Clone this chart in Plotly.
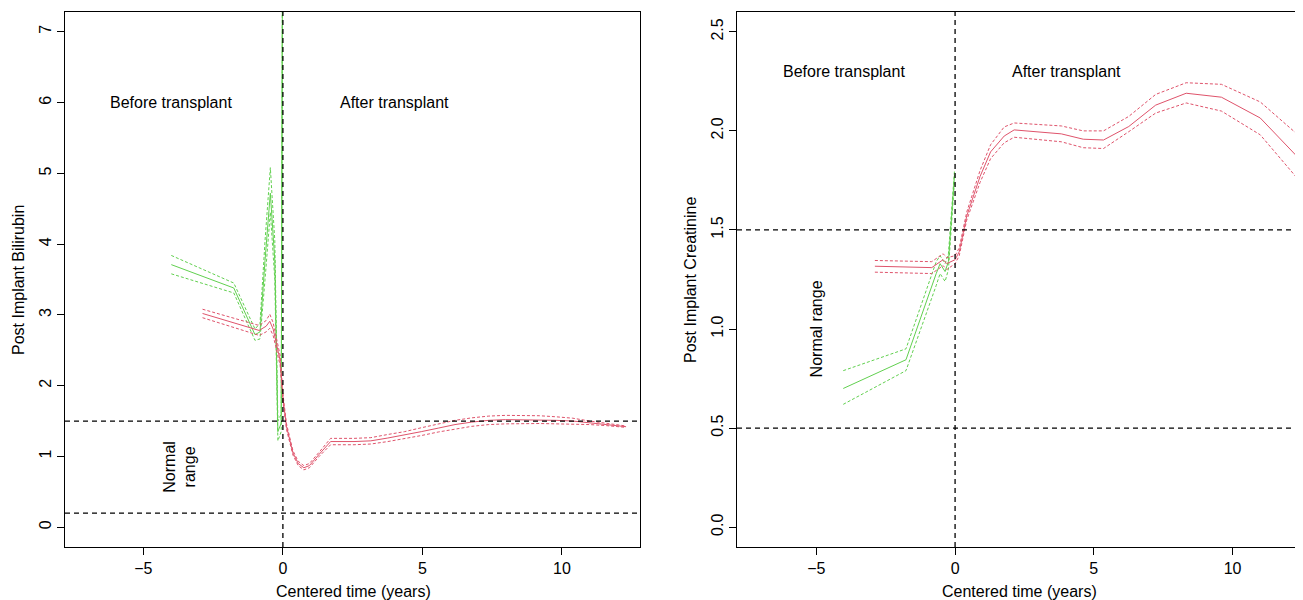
import plotly.graph_objects as go

# page body has an 8px margin; figure coordinates are reference pixels minus 8
OFF = 8
W, H = 1303 - OFF, 600 - OFF
RED = "#DF536B"
GREEN = "#61D04F"
FONT = "Liberation Sans, Arial, sans-serif"

# ---------------- Left panel: bilirubin ----------------
bil_green_x = [-4.0, -1.76, -1.0, -0.82, -0.64, -0.45, -0.29, -0.18, -0.06, -0.02]
bil_green_mid = [3.71, 3.38, 2.72, 2.76, 3.77, 4.72, 3.77, 1.35, 1.47, 7.3]
bil_green_up = [3.84, 3.45, 2.80, 2.88, 4.05, 5.08, 4.05, 1.50, 1.60, 7.5]
bil_green_lo = [3.58, 3.31, 2.64, 2.66, 3.50, 4.45, 3.50, 1.22, 1.35, 7.1]

bil_red_x = [-2.88, -0.85, -0.6, -0.47, -0.35, -0.1, 0.01, 0.13, 0.36, 0.55, 0.75, 0.95,
             1.3, 1.71, 2.55, 3.15, 3.76, 4.36, 4.96, 5.57, 6.17, 6.77, 7.38, 7.98,
             9.19, 9.79, 10.39, 11.0, 11.6, 12.3]
bil_red_mid = [3.02, 2.78, 2.84, 2.91, 2.80, 2.36, 1.80, 1.42, 1.05, 0.90, 0.84, 0.87,
               1.03, 1.21, 1.21, 1.22, 1.26, 1.30, 1.35, 1.40, 1.45, 1.485, 1.51, 1.52,
               1.52, 1.51, 1.50, 1.475, 1.45, 1.42]
bil_red_up = [3.08, 2.85, 2.92, 3.01, 2.89, 2.43, 1.85, 1.46, 1.08, 0.93, 0.87, 0.90,
              1.06, 1.255, 1.255, 1.265, 1.31, 1.35, 1.405, 1.455, 1.51, 1.545, 1.57, 1.58,
              1.575, 1.56, 1.54, 1.50, 1.465, 1.43]
bil_red_lo = [2.96, 2.71, 2.76, 2.81, 2.71, 2.29, 1.75, 1.38, 1.02, 0.87, 0.81, 0.84,
              1.00, 1.165, 1.165, 1.175, 1.21, 1.25, 1.295, 1.345, 1.39, 1.425, 1.45, 1.46,
              1.465, 1.46, 1.46, 1.45, 1.435, 1.41]

# ---------------- Right panel: creatinine ----------------
cr_green_x = [-4.03, -1.77, -0.68, -0.54, -0.36, -0.24, -0.02]
cr_green_mid = [0.70, 0.845, 1.28, 1.33, 1.29, 1.34, 1.78]
cr_green_up = [0.79, 0.90, 1.34, 1.37, 1.33, 1.38, 1.80]
cr_green_lo = [0.62, 0.79, 1.22, 1.28, 1.24, 1.30, 1.75]

cr_red_x = [-2.89, -0.84, -0.43, -0.3, 0.0, 0.15, 0.42, 0.73, 0.9, 1.28, 1.77, 2.13,
            3.83, 4.62, 5.35, 6.26, 7.23, 8.33, 9.6, 11.0, 12.4]
cr_red_mid = [1.317, 1.31, 1.35, 1.33, 1.35, 1.39, 1.57, 1.70, 1.77, 1.894, 1.974, 2.005,
              1.985, 1.958, 1.954, 2.022, 2.13, 2.19, 2.17, 2.065, 1.86]
cr_red_up = [1.346, 1.34, 1.38, 1.36, 1.37, 1.41, 1.59, 1.72, 1.80, 1.93, 2.02, 2.04,
             2.025, 2.0, 2.0, 2.073, 2.184, 2.243, 2.235, 2.146, 1.975]
cr_red_lo = [1.287, 1.28, 1.32, 1.30, 1.33, 1.37, 1.55, 1.68, 1.74, 1.86, 1.94, 1.968,
             1.945, 1.915, 1.911, 1.996, 2.09, 2.141, 2.10, 1.98, 1.75]

left_ticks_y = [0, 1, 2, 3, 4, 5, 6, 7]
right_ticks_y = [0.0, 0.5, 1.0, 1.5, 2.0, 2.5]
x_ticks = [-5, 0, 5, 10]

bil_normal = [0.2, 1.5]
cr_normal = [0.5, 1.5]

fig = go.Figure()


def add_band(x, mid, up, lo, color, xa, ya):
    fig.add_trace(go.Scatter(x=x, y=mid, mode="lines", line=dict(color=color, width=1),
                             xaxis=xa, yaxis=ya, showlegend=False, hoverinfo="skip"))
    for b in (up, lo):
        fig.add_trace(go.Scatter(x=x, y=b, mode="lines",
                                 line=dict(color=color, width=1, dash="3px,2px"),
                                 xaxis=xa, yaxis=ya, showlegend=False, hoverinfo="skip"))


add_band(bil_green_x, bil_green_mid, bil_green_up, bil_green_lo, GREEN, "x", "y")
add_band(bil_red_x, bil_red_mid, bil_red_up, bil_red_lo, RED, "x", "y")
add_band(cr_green_x, cr_green_mid, cr_green_up, cr_green_lo, GREEN, "x2", "y2")
add_band(cr_red_x, cr_red_mid, cr_red_up, cr_red_lo, RED, "x2", "y2")

DASH = dict(color="black", width=1.3, dash="5px,4px")
for v in bil_normal:
    fig.add_shape(type="line", xref="x domain", yref="y", x0=0, x1=1, y0=v, y1=v, line=DASH)
fig.add_shape(type="line", xref="x", yref="y domain", x0=0, x1=0, y0=0, y1=1, line=DASH)
for v in cr_normal:
    fig.add_shape(type="line", xref="x2 domain", yref="y2", x0=0, x1=1, y0=v, y1=v, line=DASH)
fig.add_shape(type="line", xref="x2", yref="y2 domain", x0=0, x1=0, y0=0, y1=1, line=DASH)


def px(xr):
    return (xr - OFF) / W


def py(yr):
    return 1 - (yr - OFF) / H


yd = [py(547), py(12)]
axis_common = dict(showgrid=False, zeroline=False, showline=True, linecolor="black",
                   linewidth=1, ticks="outside", ticklen=7, tickcolor="black",
                   tickfont=dict(family=FONT, size=16, color="black"))

fig.update_layout(
    width=W, height=H, margin=dict(l=0, r=0, t=0, b=0),
    plot_bgcolor="white", paper_bgcolor="white", showlegend=False,
    xaxis=dict(domain=[px(65), px(640)], range=[-7.81, 12.8], tickvals=x_ticks,
               mirror=True, anchor="y", **axis_common),
    yaxis=dict(domain=yd, range=[-0.28, 7.28], tickvals=left_ticks_y, tickangle=-90,
               mirror=True, anchor="x", **axis_common),
    xaxis2=dict(domain=[px(737), 1.0], range=[-7.86, 12.54], tickvals=x_ticks,
                mirror=True, anchor="y2", **axis_common),
    yaxis2=dict(domain=yd, range=[-0.1, 2.6], tickvals=right_ticks_y, tickformat=".1f",
                tickangle=-90, mirror=False, anchor="x2", **axis_common),
)

TF = dict(family=FONT, size=16, color="black")
ann = [
    dict(text="Before transplant", x=-4, y=6, xref="x", yref="y"),
    dict(text="After transplant", x=4, y=6, xref="x", yref="y"),
    dict(text="Normal<br>range", x=-3.7, y=0.85, xref="x", yref="y", textangle=-90),
    dict(text="Before transplant", x=-4, y=2.3, xref="x2", yref="y2"),
    dict(text="After transplant", x=4, y=2.3, xref="x2", yref="y2"),
    dict(text="Normal range", x=-5, y=1.0, xref="x2", yref="y2", textangle=-90),
    dict(text="Centered time (years)", x=px(353), y=py(591), xref="paper", yref="paper"),
    dict(text="Centered time (years)", x=px(1020), y=py(591), xref="paper", yref="paper"),
    dict(text="Post Implant Bilirubin", x=px(18), y=py(280), xref="paper", yref="paper",
         textangle=-90),
    dict(text="Post Implant Creatinine", x=px(690), y=py(280), xref="paper", yref="paper",
         textangle=-90),
]
for a in ann:
    fig.add_annotation(showarrow=False, font=TF, xanchor="center", yanchor="middle", **a)

fig.write_html("out.html")
